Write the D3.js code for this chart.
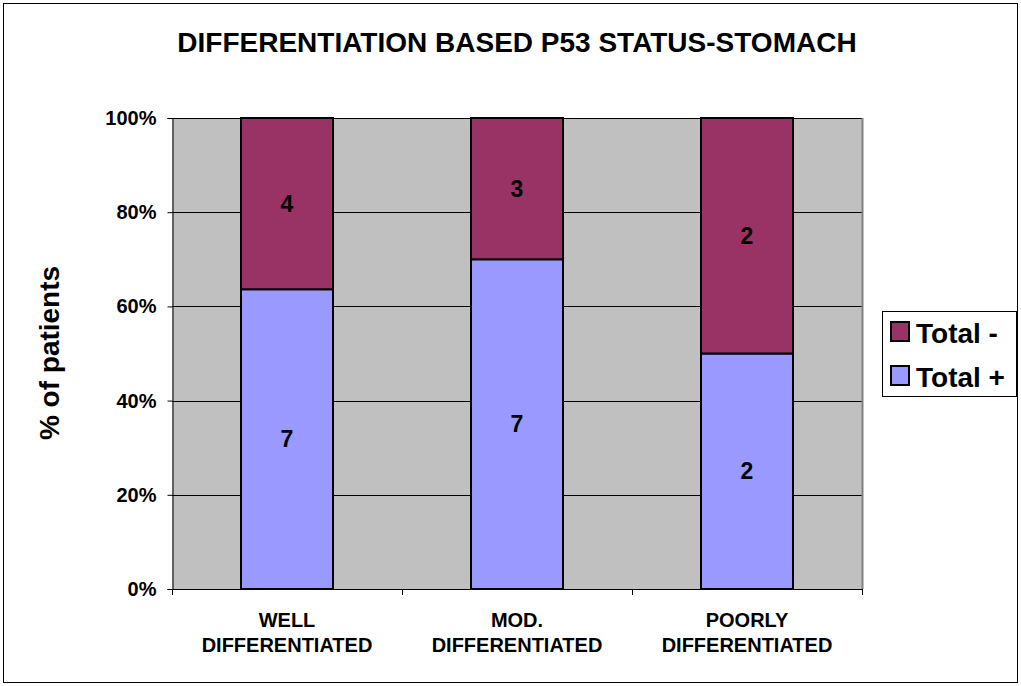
<!DOCTYPE html>
<html>
<head>
<meta charset="utf-8">
<script src="https://cdn.jsdelivr.net/npm/d3@7"></script>
<style>
  body { margin: 0; background: #fff; }
  text { font-family: "Liberation Sans", Arial, sans-serif; font-weight: bold; }
</style>
</head>
<body>
<svg id="chart" width="1021" height="686"></svg>
<script>
var categories = [['WELL', 'DIFFERENTIATED'], ['MOD.', 'DIFFERENTIATED'], ['POORLY', 'DIFFERENTIATED']];
var totalPos = [7, 7, 2];
var totalNeg = [4, 3, 2];
var yTicks = [0, 0.2, 0.4, 0.6, 0.8, 1];
var seriesNames = ['Total -', 'Total +'];
var colors = { pos: '#9999FF', neg: '#993366' };

var svg = d3.select('#chart');

// outer frame
svg.append('rect')
  .attr('x', 3.5).attr('y', 3.5)
  .attr('width', 1014).attr('height', 679)
  .attr('fill', '#fff').attr('stroke', '#000').attr('stroke-width', 1);

var pLeft = 172, pRight = 862, pTop = 118, pBottom = 589;

var x = d3.scaleBand().domain(d3.range(categories.length)).range([pLeft, pRight]).paddingInner(0).paddingOuter(0);
var y = d3.scaleLinear().domain([0, 1]).range([pBottom, pTop]);

// plot background
svg.append('rect')
  .attr('x', pLeft).attr('y', pTop)
  .attr('width', pRight - pLeft).attr('height', pBottom - pTop)
  .attr('fill', '#C0C0C0');

// gridlines
svg.append('g').selectAll('line')
  .data(yTicks.slice(1))
  .enter().append('line')
  .attr('x1', pLeft).attr('x2', pRight)
  .attr('y1', function(d) { return Math.round(y(d)) + 0.5; })
  .attr('y2', function(d) { return Math.round(y(d)) + 0.5; })
  .attr('stroke', '#000').attr('stroke-width', 1);

// right border of plot area
svg.append('line')
  .attr('x1', pRight + 0.5).attr('x2', pRight + 0.5)
  .attr('y1', pTop).attr('y2', pBottom)
  .attr('stroke', '#808080').attr('stroke-width', 2);

// stacked bars
var barW = x.bandwidth() * 0.4;
var rows = categories.map(function(c, i) {
  var tot = totalPos[i] + totalNeg[i];
  return { i: i, pos: totalPos[i], neg: totalNeg[i], p: totalPos[i] / tot };
});

var bars = svg.append('g');
rows.forEach(function(d) {
  var bx = x(d.i) + (x.bandwidth() - barW) / 2;
  bars.append('rect')
    .attr('x', bx).attr('y', y(d.p))
    .attr('width', barW).attr('height', y(0) - y(d.p))
    .attr('fill', colors.pos).attr('stroke', '#000').attr('stroke-width', 2);
  bars.append('rect')
    .attr('x', bx).attr('y', y(1))
    .attr('width', barW).attr('height', y(d.p) - y(1))
    .attr('fill', colors.neg).attr('stroke', '#000').attr('stroke-width', 2);
  bars.append('text')
    .attr('x', bx + barW / 2).attr('y', (y(0) + y(d.p)) / 2 + 8)
    .attr('text-anchor', 'middle').attr('font-size', 23)
    .text(d.pos);
  bars.append('text')
    .attr('x', bx + barW / 2).attr('y', (y(d.p) + y(1)) / 2 + 8)
    .attr('text-anchor', 'middle').attr('font-size', 23)
    .text(d.neg);
});

// y axis
var yAxis = svg.append('g')
  .attr('transform', 'translate(' + (pLeft + 0.5) + ',0)')
  .call(d3.axisLeft(y).tickValues(yTicks).tickFormat(d3.format('.0%')).tickSize(5).tickPadding(11));
yAxis.select('.domain').attr('stroke', '#000');
yAxis.selectAll('.tick line').attr('stroke', '#000');
yAxis.selectAll('text').attr('font-size', 20).attr('fill', '#000')
  .style('font-family', '"Liberation Sans", Arial, sans-serif').style('font-weight', 'bold');

// x axis
var xAxisG = svg.append('g');
xAxisG.append('line')
  .attr('x1', pLeft).attr('x2', pRight)
  .attr('y1', pBottom + 0.5).attr('y2', pBottom + 0.5)
  .attr('stroke', '#000');
xAxisG.selectAll('line.tk')
  .data(d3.range(categories.length + 1))
  .enter().append('line')
  .attr('class', 'tk')
  .attr('x1', function(i) { return Math.round(pLeft + i * x.step()) + 0.5; })
  .attr('x2', function(i) { return Math.round(pLeft + i * x.step()) + 0.5; })
  .attr('y1', pBottom).attr('y2', pBottom + 6)
  .attr('stroke', '#000');
categories.forEach(function(c, i) {
  var t = xAxisG.append('text')
    .attr('x', x(i) + x.bandwidth() / 2)
    .attr('y', 627)
    .attr('text-anchor', 'middle').attr('font-size', 20);
  c.forEach(function(line, k) {
    t.append('tspan').attr('x', x(i) + x.bandwidth() / 2).attr('dy', k === 0 ? 0 : 25).text(line);
  });
});

// title
svg.append('text')
  .attr('x', 517).attr('y', 52)
  .attr('text-anchor', 'middle').attr('font-size', 28)
  .text('DIFFERENTIATION BASED P53 STATUS-STOMACH');

// y label
svg.append('text')
  .attr('transform', 'translate(59,353) rotate(-90)')
  .attr('text-anchor', 'middle').attr('font-size', 28)
  .text('% of patients');

// legend
var lg = svg.append('g');
lg.append('rect')
  .attr('x', 882.5).attr('y', 311.5).attr('width', 134).attr('height', 85)
  .attr('fill', '#fff').attr('stroke', '#000');
var legendColors = [colors.neg, colors.pos];
seriesNames.forEach(function(n, k) {
  var yy = 322 + k * 44;
  lg.append('rect')
    .attr('x', 891).attr('y', yy).attr('width', 18).attr('height', 19)
    .attr('fill', legendColors[k]).attr('stroke', '#000').attr('stroke-width', 2);
  lg.append('text')
    .attr('x', 916).attr('y', yy + 21)
    .attr('font-size', 28)
    .text(n);
});
</script>
</body>
</html>
